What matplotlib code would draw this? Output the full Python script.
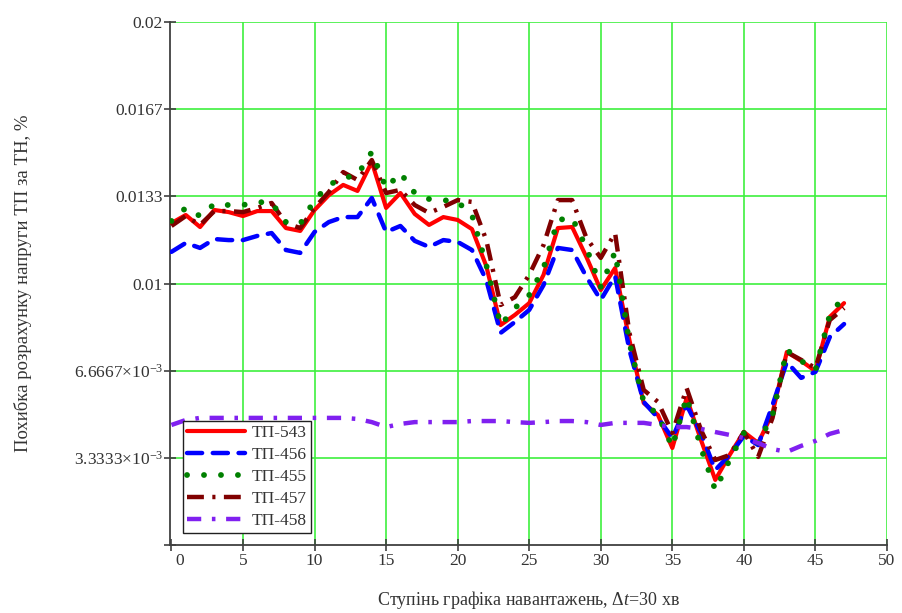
import numpy as np
import matplotlib
matplotlib.use("Agg")
import matplotlib.pyplot as plt
from matplotlib.transforms import ScaledTranslation

plt.rcParams['font.family'] = ['Liberation Serif', 'DejaVu Serif']
plt.rcParams['mathtext.fontset'] = 'custom'
plt.rcParams['mathtext.rm'] = 'Liberation Serif'
plt.rcParams['mathtext.it'] = 'Liberation Serif:italic'

steps = np.arange(48)

tp543 = [0.01231, 0.01262, 0.01216, 0.01281, 0.01273, 0.01258, 0.01277, 0.01277,
         0.01212, 0.01201, 0.01281, 0.01338, 0.01377, 0.01354, 0.01465, 0.01289,
         0.01346, 0.01266, 0.01224, 0.01254, 0.01243, 0.01208, 0.01067, 0.00841,
         0.00880, 0.00925, 0.01033, 0.01212, 0.01216, 0.01101, 0.00975, 0.01059,
         0.00784, 0.00543, 0.00497, 0.00371, 0.00562, 0.00402, 0.00249, 0.00344,
         0.00432, 0.00390, 0.00505, 0.00738, 0.00704, 0.00665, 0.00872, 0.00925]

tp456 = [0.01121, 0.01155, 0.01136, 0.01170, 0.01166, 0.01166, 0.01182, 0.01193,
         0.01128, 0.01117, 0.01197, 0.01235, 0.01254, 0.01254, 0.01327, 0.01197,
         0.01220, 0.01163, 0.01140, 0.01166, 0.01159, 0.01128, 0.01013, 0.00811,
         0.00853, 0.00899, 0.00994, 0.01136, 0.01128, 0.01025, 0.00937, 0.01029,
         0.00746, 0.00547, 0.00486, 0.00409, 0.00535, 0.00428, 0.00287, 0.00344,
         0.00417, 0.00382, 0.00535, 0.00700, 0.00639, 0.00662, 0.00795, 0.00845]

tp455 = [0.01239, 0.01289, 0.01258, 0.01304, 0.01300, 0.01300, 0.01312, 0.01308,
         0.01235, 0.01228, 0.01319, 0.01377, 0.01403, 0.01415, 0.01503, 0.01365,
         0.01423, 0.01346, 0.01323, 0.01319, 0.01312, 0.01262, 0.01071, 0.00841,
         0.00906, 0.00956, 0.01059, 0.01243, 0.01251, 0.01136, 0.00987, 0.01121,
         0.00773, 0.00547, 0.00497, 0.00375, 0.00566, 0.00371, 0.00210, 0.00325,
         0.00428, 0.00390, 0.00497, 0.00746, 0.00704, 0.00669, 0.00880, 0.00952]

tp457 = [0.01220, 0.01258, 0.01224, 0.01277, 0.01277, 0.01273, 0.01289, 0.01308,
         0.01231, 0.01212, 0.01289, 0.01350, 0.01426, 0.01396, 0.01472, 0.01346,
         0.01358, 0.01300, 0.01270, 0.01293, 0.01319, 0.01312, 0.01166, 0.00918,
         0.00948, 0.01033, 0.01147, 0.01319, 0.01319, 0.01174, 0.01098, 0.01193,
         0.00811, 0.00593, 0.00547, 0.00428, 0.00600, 0.00440, 0.00325, 0.00344,
         0.00432, 0.00337, 0.00486, 0.00738, 0.00708, 0.00677, 0.00860, 0.00906]

tp458 = [0.00459, 0.00478, 0.00486, 0.00486, 0.00486, 0.00486, 0.00486, 0.00486,
         0.00486, 0.00486, 0.00486, 0.00486, 0.00486, 0.00482, 0.00470, 0.00451,
         0.00463, 0.00470, 0.00470, 0.00470, 0.00470, 0.00474, 0.00474, 0.00474,
         0.00470, 0.00467, 0.00470, 0.00474, 0.00474, 0.00470, 0.00459, 0.00467,
         0.00467, 0.00467, 0.00459, 0.00451, 0.00451, 0.00444, 0.00432, 0.00421,
         0.00409, 0.00390, 0.00367, 0.00356, 0.00379, 0.00398, 0.00425, 0.00440]

series_names = ['ТП-543', 'ТП-456', 'ТП-455', 'ТП-457', 'ТП-458']

y_ticks = [0, 0.02 / 6, 0.02 * 2 / 6, 0.01, 0.02 * 4 / 6, 0.02 * 5 / 6, 0.02]
y_tick_labels = ['', r'3.3333$\times$10$^{-3}$', r'6.6667$\times$10$^{-3}$',
                 '0.01', '0.0133', '0.0167', '0.02']
x_ticks = [0, 5, 10, 15, 20, 25, 30, 35, 40, 45, 50]

fig = plt.figure(figsize=(9.03, 6.13), dpi=100)
ax = fig.add_axes([170 / 903, 68 / 613, 717 / 903, 523 / 613])

grid_color = '#3ef03e'
for xv in x_ticks[1:]:
    ax.axvline(xv, color=grid_color, lw=1.2, zorder=0)
for yv in y_ticks[1:]:
    ax.axhline(yv, color=grid_color, lw=1.2, zorder=0)

l1, = ax.plot(steps, tp543, color='#ff0000', lw=3.0, solid_capstyle='round',
              solid_joinstyle='round', zorder=3)
l2, = ax.plot(steps, tp456, color='#0000ff', lw=3.2, linestyle=(0, (3.4, 2.4)),
              dash_capstyle='round', zorder=4)
l4, = ax.plot(steps, tp457, color='#800000', lw=3.2, linestyle=(0, (3.8, 1.9, 0.7, 1.9)),
              zorder=5)
l3, = ax.plot(steps, tp455, color='#008000', lw=4.2, linestyle=(0, (0.01, 2.9)),
              dash_capstyle='round', zorder=6)
l5, = ax.plot(steps, tp458, color='#8020f0', lw=3.2, linestyle=(0, (3.2, 2.4, 0.8, 2.4)),
              zorder=7)

ax.set_xlim(-0.1, 50)
ax.set_ylim(0, 0.02)
ax.set_xticks(x_ticks)
ax.set_xticklabels([str(v) for v in x_ticks])
ax.set_yticks(y_ticks)
ax.set_yticklabels(y_tick_labels)

for s in ['top', 'right']:
    ax.spines[s].set_visible(False)
for s in ['left', 'bottom']:
    ax.spines[s].set_color('#404040')
    ax.spines[s].set_linewidth(1.3)

ax.tick_params(axis='both', direction='inout', length=8, width=1.2, color='#404040',
               labelsize=12.5, labelcolor='#333333')
ax.tick_params(axis='y', pad=1)
ax.tick_params(axis='x', pad=2)

lbl0 = ax.get_xticklabels()[0]
lbl0.set_transform(lbl0.get_transform() + ScaledTranslation(8 / 100, 0, fig.dpi_scale_trans))

ax.set_xlabel('Ступінь графіка навантажень, Δ$t$=30 хв', fontsize=13, color='#333333')
ax.xaxis.set_label_coords(0.5, -44 / 523)
ax.set_ylabel('Похибка розрахунку напруги ТП за ТН, %', fontsize=13.5, color='#333333')
ax.yaxis.set_label_coords(-138 / 717, 0.5)

leg = ax.legend([l1, l2, l3, l4, l5], series_names, loc='lower left',
                bbox_to_anchor=(13 / 717, 12 / 523), borderaxespad=0,
                fontsize=12.5, handlelength=3.3, handletextpad=0.4,
                labelspacing=0.33, borderpad=0.25, fancybox=False, framealpha=1,
                edgecolor='#202020')
leg.get_frame().set_linewidth(1.0)
leg.set_zorder(10)
for t in leg.get_texts():
    t.set_color('#333333')

fig.savefig('out.png', dpi=100)
